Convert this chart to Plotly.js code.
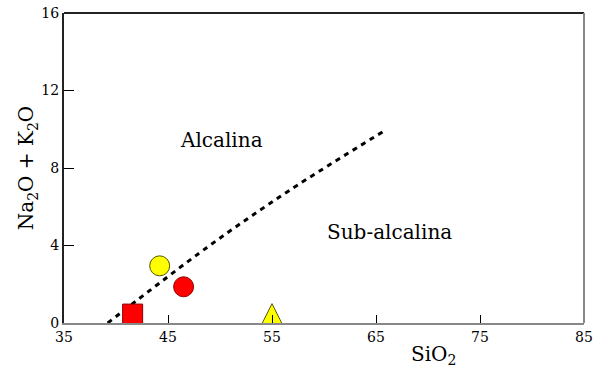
<!DOCTYPE html>
<html>
<head>
<meta charset="utf-8">
<script src="https://cdn.plot.ly/plotly-3.0.1.min.js"></script>
<style>
  html, body { margin: 0; padding: 0; background: #fff; }
  #chart { width: 610px; height: 369px; }
</style>
</head>
<body>
<div id="chart"></div>
<script>
// Alkaline / sub-alkaline boundary (TAS diagram)
const boundarySiO2 = [39.2, 48.75, 56.7, 65.9];
const boundaryAlk  = [0, 3.9, 6.85, 9.95];

// Samples
const sampleNames  = ['Muestra 1', 'Muestra 2', 'Muestra 3', 'Muestra 4'];
const sampleSiO2   = [41.6, 44.2, 46.5, 55.0];
const sampleAlk    = [0.46, 2.95, 1.87, 1.0];
const sampleSymbol = ['square', 'circle', 'circle', 'arrow-up'];
const sampleFill   = ['#ff0000', '#ffff00', '#ff0000', '#ffff00'];
const sampleEdge   = ['#8b0000', '#555500', '#8b0000', '#555500'];

const xTicks = [35, 45, 55, 65, 75, 85];
const yTicks = [0, 4, 8, 12, 16];

const serif = 'DejaVu Serif';

const traces = [
  {
    x: boundarySiO2, y: boundaryAlk,
    mode: 'lines', type: 'scatter',
    line: { color: '#000', width: 3, dash: '5px,5px', shape: 'spline' },
    hoverinfo: 'skip', showlegend: false
  },
  {
    x: sampleSiO2, y: sampleAlk, text: sampleNames,
    mode: 'markers', type: 'scatter', cliponaxis: false,
    marker: {
      symbol: sampleSymbol, size: 20, color: sampleFill,
      line: { color: sampleEdge, width: 1 }
    },
    showlegend: false
  }
];

const tf = (size) => ({ family: serif, size: size, color: '#000' });

const layout = {
  width: 610, height: 369,
  margin: { l: 64, r: 26, t: 13, b: 46 },
  paper_bgcolor: '#fff', plot_bgcolor: '#fff',
  font: tf(14),
  showlegend: false,
  xaxis: {
    range: [35, 85], tickvals: xTicks, ticktext: xTicks.map(String),
    ticks: 'inside', ticklen: 8, tickwidth: 1, tickcolor: '#000',
    showgrid: false, zeroline: false,
    showline: true, linecolor: '#888', linewidth: 2,
    tickfont: tf(14)
  },
  yaxis: {
    range: [0, 16], tickvals: yTicks, ticktext: yTicks.map(String),
    ticks: 'inside', ticklen: 10, tickwidth: 1, tickcolor: '#000',
    showgrid: false, zeroline: false,
    showline: true, linecolor: '#222', linewidth: 2,
    tickfont: tf(14),
    title: { text: 'Na<sub>2</sub>O + K<sub>2</sub>O', font: tf(20), standoff: 2 }
  },
  shapes: [
    { type: 'line', xref: 'paper', yref: 'paper', x0: 0, x1: 1, y0: 1, y1: 1, line: { color: '#222', width: 2 } },
    { type: 'line', xref: 'paper', yref: 'paper', x0: 1, x1: 1, y0: 0, y1: 1, line: { color: '#888', width: 2 } }
  ],
  annotations: [
    { x: 50.1, y: 9.45, xref: 'x', yref: 'y', xanchor: 'center', yanchor: 'middle',
      text: 'Alcalina', showarrow: false, font: tf(20) },
    { x: 66.3, y: 4.7, xref: 'x', yref: 'y', xanchor: 'center', yanchor: 'middle',
      text: 'Sub-alcalina', showarrow: false, font: tf(20) },
    { x: 0.71, y: -0.103, xref: 'paper', yref: 'paper', xanchor: 'center', yanchor: 'middle',
      text: 'SiO<sub>2</sub>', showarrow: false, font: tf(20) }
  ]
};

Plotly.newPlot('chart', traces, layout, { displayModeBar: false, staticPlot: true });
</script>
</body>
</html>
